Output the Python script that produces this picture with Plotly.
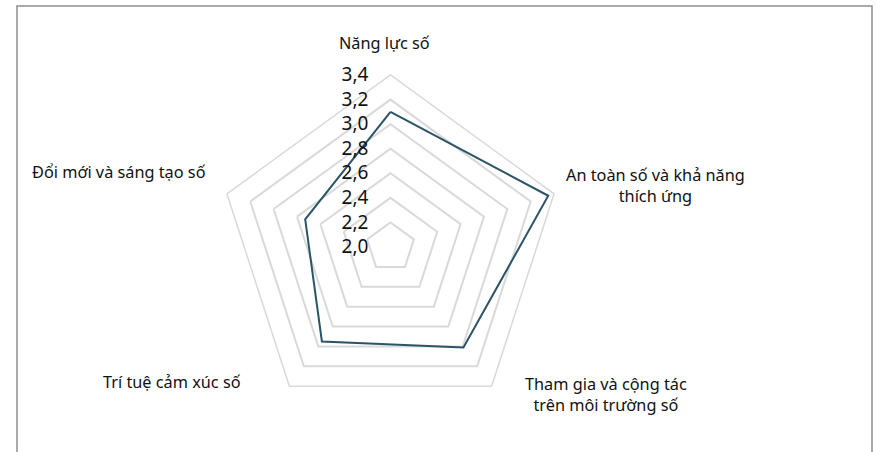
import plotly.graph_objects as go

# Competency dimensions and their mean scores
categories = [
    "Năng lực số",
    "An toàn số và khả năng thích ứng",
    "Tham gia và cộng tác trên môi trường số",
    "Trí tuệ cảm xúc số",
    "Đổi mới và sáng tạo số",
]
scores = [3.10, 3.35, 3.01, 2.95, 2.73]

# Category labels as printed around the chart (with line breaks)
label_texts = [
    "Năng lực số",
    "An toàn số và khả năng<br>thích ứng",
    "Tham gia và cộng tác<br>trên môi trường số",
    "Trí tuệ cảm xúc số",
    "Đổi mới và sáng tạo số",
]
radial_range = [2.0, 3.4]
radial_step = 0.2

W, H = 877, 452
cx, cy, R = 390.5, 247, 172  # polar centre and radius in pixels

fig = go.Figure()
fig.add_trace(go.Scatterpolar(
    r=scores + scores[:1],
    theta=categories + categories[:1],
    mode="lines",
    line=dict(color="#2B5468", width=2),
    hoverinfo="r+theta",
    showlegend=False,
))

fig.update_layout(
    width=W, height=H,
    margin=dict(l=0, r=0, t=0, b=0),
    paper_bgcolor="white",
    separators=", ",
    font=dict(family="Noto Sans", color="#222222"),
    polar=dict(
        bgcolor="white",
        gridshape="linear",
        domain=dict(x=[(cx - R) / W, (cx + R) / W],
                    y=[(H - cy - R) / H, (H - cy + R) / H]),
        radialaxis=dict(
            range=radial_range,
            dtick=radial_step,
            tick0=radial_range[0],
            tickformat=".1f",
            angle=90,
            side="counterclockwise",
            tickangle=90,
            showline=False,
            ticks="outside",
            ticklen=15,
            tickcolor="rgba(0,0,0,0)",
            gridcolor="#D9D9D9",
            gridwidth=1.5,
            tickfont=dict(size=19, color="#111111"),
        ),
        angularaxis=dict(
            rotation=90,
            direction="clockwise",
            showgrid=False,
            showticklabels=False,
            ticks="",
            showline=True,
            linecolor="#D9D9D9",
            linewidth=1.5,
        ),
    ),
)

# Category labels placed around the pentagon
label_pos = [
    (384, 43),
    (655, 185),
    (606, 394),
    (172, 382),
    (119, 172),
]
for text, (x, y) in zip(label_texts, label_pos):
    fig.add_annotation(
        x=x / W, y=1 - y / H, xref="paper", yref="paper",
        text=text, showarrow=False, align="center",
        xanchor="center", yanchor="middle",
        font=dict(size=16.3, color="#111111"),
    )

# Chart-area frame
fig.add_shape(
    type="rect", xref="paper", yref="paper",
    x0=17 / W, x1=872 / W, y0=-0.05, y1=1 - 6 / H,
    line=dict(color="#8E8E8E", width=1.5),
)

fig.write_html("out.html")
